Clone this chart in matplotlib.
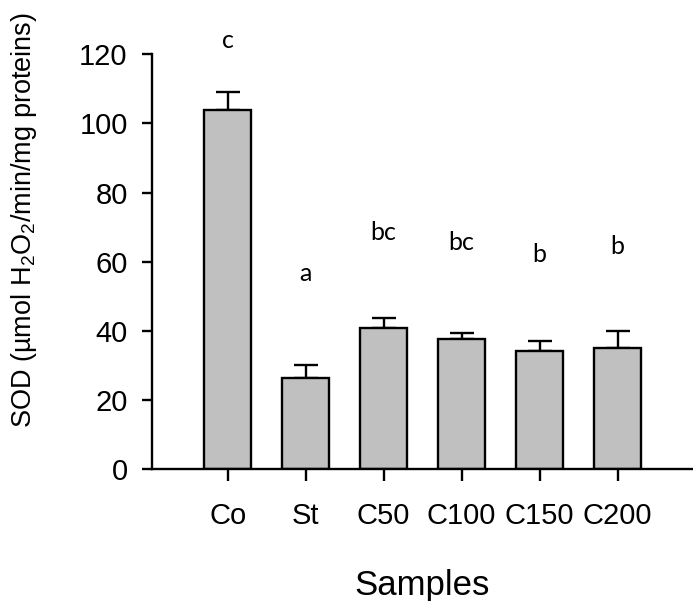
import numpy as np
import matplotlib
matplotlib.use("Agg")
import matplotlib.pyplot as plt

plt.rcParams['font.family'] = ['Liberation Sans', 'DejaVu Sans']
plt.rcParams['mathtext.fontset'] = 'custom'
plt.rcParams['mathtext.rm'] = 'Liberation Sans'
plt.rcParams['mathtext.it'] = 'Liberation Sans'
plt.rcParams['mathtext.default'] = 'regular'

# data
samples = ["Co", "St", "C50", "C100", "C150", "C200"]
sod_mean = [104.0, 26.2, 40.7, 37.6, 34.2, 35.1]
sod_err = [5.0, 3.9, 3.0, 1.7, 2.9, 4.7]
letters = ["c", "a", "bc", "bc", "b", "b"]
letter_y = [124, 56.5, 68.4, 65.5, 62, 64.3]

fig = plt.figure(figsize=(6.93, 6.01), dpi=100)
ax = fig.add_axes([0.2193, 0.2196, 0.779, 0.690])

lw = 1.7
x = np.arange(len(samples))
ax.bar(x, sod_mean, width=0.6, color="#c0c0c0", edgecolor="black", linewidth=lw, zorder=2)
ax.errorbar(x, sod_mean, yerr=[np.zeros(len(sod_err)), sod_err], fmt="none",
            ecolor="black", elinewidth=lw, capsize=8.3, capthick=lw, zorder=1)

for xi, lab, ly in zip(x, letters, letter_y):
    ax.text(xi, ly, lab, ha="center", va="center", fontsize=18,
            family=["Lato", "DejaVu Sans"], clip_on=False)

ax.set_xlim(-0.97, 5.95)
ax.set_ylim(0, 120)
ax.set_yticks(np.arange(0, 121, 20))
ax.set_xticks(x)
ax.set_xticklabels(samples)

for s in ["top", "right"]:
    ax.spines[s].set_visible(False)
for s in ["left", "bottom"]:
    ax.spines[s].set_linewidth(lw)

ax.tick_params(axis="y", direction="out", length=7.5, width=lw, pad=10, labelsize=21)
ax.tick_params(axis="x", direction="out", length=8.5, width=lw, pad=15.5, labelsize=21)

ax.set_xlabel("Samples", fontsize=25, labelpad=28)
ax.set_ylabel("SOD (µmol H$_2$O$_2$/min/mg proteins)", fontsize=19.5)
ax.yaxis.set_label_coords(-0.209, 0.6)

fig.savefig("out.png", dpi=100)
